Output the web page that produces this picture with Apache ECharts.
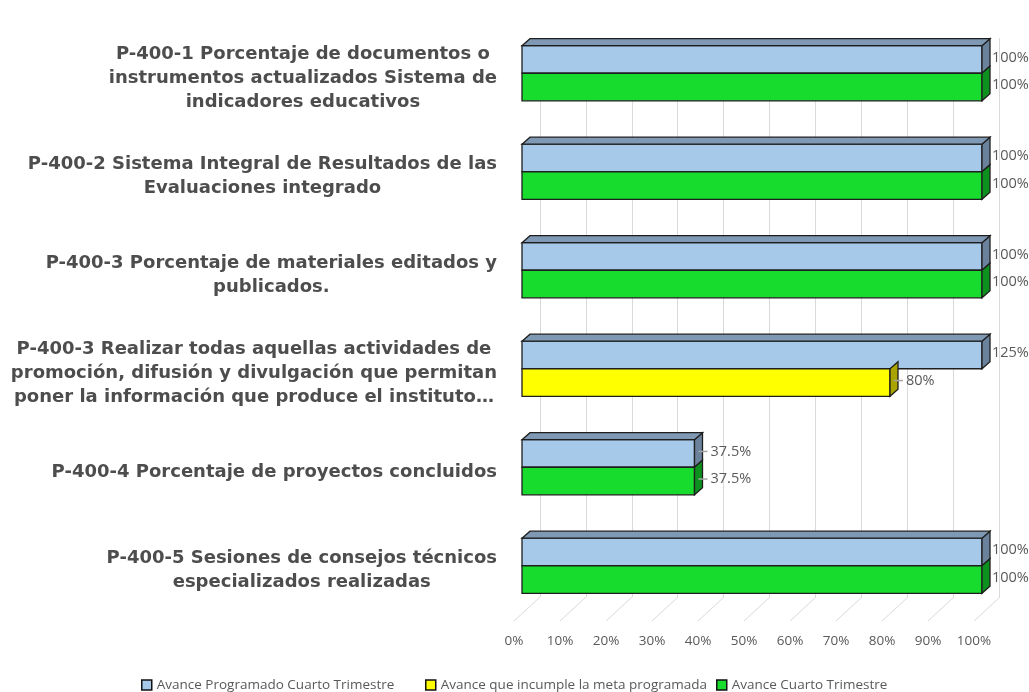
<!DOCTYPE html>
<html>
<head>
<meta charset="utf-8">
<script src="https://cdn.jsdelivr.net/npm/echarts@6/dist/echarts.min.js"></script>
<style>
  html, body { margin: 0; padding: 0; background: #fff; }
  #chart { width: 1029px; height: 692px; }
</style>
</head>
<body>
<div id="chart"></div>
<script>
// indicadores (de arriba hacia abajo)
const categories = [
  'P-400-1 Porcentaje de documentos o\ninstrumentos actualizados Sistema de\nindicadores educativos',
  'P-400-2 Sistema Integral de Resultados de las\nEvaluaciones integrado',
  'P-400-3 Porcentaje de materiales editados y\npublicados.',
  'P-400-3 Realizar todas aquellas actividades de\npromoción, difusión y divulgación que permitan\nponer la información que produce el instituto…',
  'P-400-4 Porcentaje de proyectos concluidos',
  'P-400-5 Sesiones de consejos técnicos\nespecializados realizadas'
]
const programado = [100, 100, 100, 125, 37.5, 100]
const incumple = [null, null, null, 80, null, null]
const avance = [100, 100, 100, null, 37.5, 100]
const xTicks = [0, 10, 20, 30, 40, 50, 60, 70, 80, 90, 100]

const DX = 8 // profundidad 3D
const DY = 7
const LABEL_COLOR = '#595959'

function toData (arr) {
  return arr.map((v, i) => [v, i]).filter(d => d[0] !== null)
}

// barra 3D: slot 0 = arriba, slot 1 = abajo
function bar3d (slot, front, top, side) {
  return function (params, api) {
    const val = api.value(0)
    const cat = api.value(1)
    const band = api.size([0, 1])[1]
    const h = band * 0.28
    const cs = params.coordSys
    const p0 = api.coord([0, cat])
    const p1 = api.coord([val, cat])
    const x0 = p0[0]
    const x1 = Math.min(p1[0], cs.x + cs.width)
    const y0 = p0[1] - h + slot * h
    const y1 = y0 + h
    const border = { stroke: '#1e1e1e', lineWidth: 1.3 }
    const children = [
      { type: 'polygon', shape: { points: [[x0, y0], [x1, y0], [x1, y1], [x0, y1]] }, style: Object.assign({ fill: front }, border) },
      { type: 'polygon', shape: { points: [[x1, y0], [x1 + DX, y0 - DY], [x1 + DX, y1 - DY], [x1, y1]] }, style: Object.assign({ fill: side }, border) }
    ]
    if (top) {
      children.push({ type: 'polygon', shape: { points: [[x0, y0], [x0 + DX, y0 - DY], [x1 + DX, y0 - DY], [x1, y0]] }, style: Object.assign({ fill: top }, border) })
    }
    const ly = (y0 + y1) / 2 - 2
    let lx = x1 + DX + 2
    if (val < 100) {
      // pequeña línea guía hacia la etiqueta
      children.push({ type: 'line', shape: { x1: x1 + DX - 4, y1: ly, x2: x1 + DX + 5, y2: ly }, style: { stroke: '#a6a6a6', lineWidth: 1.5 } })
      lx = x1 + DX + 8
    }
    children.push({
      type: 'text',
      style: { x: lx, y: ly, text: val + '%', fill: LABEL_COLOR, font: '14.5px "Open Sans"', textAlign: 'left', textVerticalAlign: 'middle' }
    })
    return { type: 'group', children: children }
  }
}

const chart = echarts.init(document.getElementById('chart'))

const legendBase = {
  icon: 'rect',
  itemWidth: 10,
  itemHeight: 10,
  top: 678,
  padding: 0,
  textStyle: { color: LABEL_COLOR, fontSize: 13.5, fontFamily: 'Open Sans' }
}

chart.setOption({
  backgroundColor: '#fff',
  animation: false,
  grid: [
    { left: 522, width: 460, top: 24, height: 591, outerBoundsMode: 'none' },
    { left: 540, width: 459, top: 38, height: 559, outerBoundsMode: 'none' },
    { left: 514, width: 460, top: 600, height: 21, outerBoundsMode: 'none' }
  ],
  xAxis: [
    { gridIndex: 0, type: 'value', min: 0, max: 100, show: false },
    {
      gridIndex: 1, type: 'value', min: 0, max: 100, interval: 10,
      axisLine: { show: false }, axisTick: { show: false }, axisLabel: { show: false },
      splitLine: { show: true, lineStyle: { color: '#d9d9d9', width: 1 } }
    },
    {
      gridIndex: 2, type: 'value', min: 0, max: 100, interval: 10,
      axisLine: { show: false }, axisTick: { show: false }, splitLine: { show: false },
      axisLabel: { formatter: '{value}%', color: LABEL_COLOR, fontSize: 13.5, fontFamily: 'Open Sans', margin: 13 }
    }
  ],
  yAxis: [
    {
      gridIndex: 0,
      type: 'category',
      inverse: true,
      data: categories,
      axisLine: { show: false },
      axisTick: { show: false },
      splitLine: { show: false },
      axisLabel: {
        interval: 0,
        margin: 25,
        padding: [10, 0, 0, 0],
        formatter: v => v.split('\n').map(l => '{c|' + l + '}').join('\n'),
        rich: {
          c: {
            align: 'center',
            color: '#4d4d4d',
            fontSize: 18,
            fontWeight: 'bold',
            fontFamily: 'DejaVu Sans',
            lineHeight: 24
          }
        }
      }
    },
    { gridIndex: 1, type: 'value', show: false, splitLine: { show: false } },
    { gridIndex: 2, type: 'value', min: 0, max: 1, show: false, splitLine: { show: false } }
  ],
  legend: [
    Object.assign({ left: 141, data: [{ name: 'Avance Programado Cuarto Trimestre', itemStyle: { color: '#a6c9ea', borderColor: '#111', borderWidth: 1.5 } }] }, legendBase),
    Object.assign({ left: 425, data: [{ name: 'Avance que incumple la meta programada', itemStyle: { color: '#ffff00', borderColor: '#111', borderWidth: 1.5 } }] }, legendBase),
    Object.assign({ left: 716, data: [{ name: 'Avance Cuarto Trimestre', itemStyle: { color: '#17db2d', borderColor: '#111', borderWidth: 1.5 } }] }, legendBase)
  ],
  series: [
    {
      // líneas del piso
      type: 'custom',
      xAxisIndex: 2,
      yAxisIndex: 2,
      silent: true,
      data: xTicks.map(t => [t, 0]),
      encode: { x: 0, y: 1 },
      renderItem: function (params, api) {
        const p = api.coord([api.value(0), 0])
        return { type: 'line', shape: { x1: p[0], y1: p[1], x2: p[0] + 26, y2: p[1] - 24 }, style: { stroke: '#d9d9d9', lineWidth: 1 } }
      }
    },
    {
      name: 'Avance Programado Cuarto Trimestre',
      type: 'custom',
      xAxisIndex: 0,
      yAxisIndex: 0,
      itemStyle: { color: '#a6c9ea' },
      data: toData(programado),
      encode: { x: 0, y: 1 },
      renderItem: bar3d(0, '#a6c9ea', '#7f98b3', '#6b829c')
    },
    {
      name: 'Avance que incumple la meta programada',
      type: 'custom',
      xAxisIndex: 0,
      yAxisIndex: 0,
      itemStyle: { color: '#ffff00' },
      data: toData(incumple),
      encode: { x: 0, y: 1 },
      renderItem: bar3d(1, '#ffff00', null, '#aaa400')
    },
    {
      name: 'Avance Cuarto Trimestre',
      type: 'custom',
      xAxisIndex: 0,
      yAxisIndex: 0,
      itemStyle: { color: '#17db2d' },
      data: toData(avance),
      encode: { x: 0, y: 1 },
      renderItem: bar3d(1, '#17db2d', null, '#0e901e')
    }
  ]
})
</script>
</body>
</html>
